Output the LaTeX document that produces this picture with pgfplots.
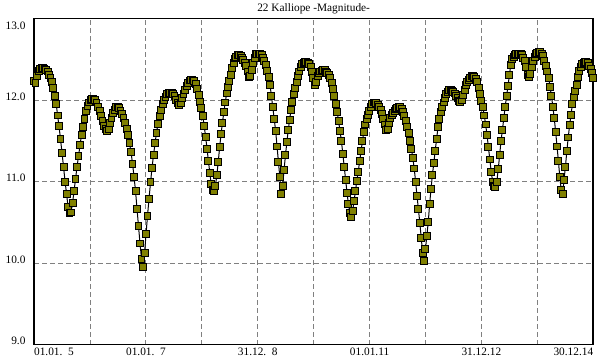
\documentclass[border=0pt]{standalone}
\usepackage{fontspec}
\setmainfont{Liberation Serif}
\usepackage{pgfplots}
\pgfplotsset{compat=1.18}
\usepackage{pgfplotstable}
\definecolor{olivemark}{HTML}{808000}
\definecolor{gridgray}{HTML}{808080}
\pgfplotstableread{
t m
2005.000 12.23
2005.025 12.21
2005.052 12.30
2005.079 12.36
2005.106 12.38
2005.132 12.39
2005.159 12.39
2005.186 12.38
2005.213 12.37
2005.240 12.35
2005.267 12.31
2005.293 12.27
2005.320 12.22
2005.343 12.15
2005.370 12.05
2005.395 11.95
2005.420 11.81
2005.445 11.68
2005.472 11.52
2005.499 11.35
2005.526 11.18
2005.553 11.00
2005.580 10.85
2005.606 10.69
2005.633 10.61
2005.660 10.62
2005.687 10.74
2005.714 10.88
2005.740 11.03
2005.767 11.18
2005.794 11.31
2005.821 11.45
2005.848 11.57
2005.875 11.67
2005.901 11.77
2005.928 11.86
2005.955 11.93
2005.982 11.97
2006.009 12.00
2006.036 12.01
2006.062 12.01
2006.089 12.00
2006.116 11.97
2006.143 11.92
2006.170 11.86
2006.197 11.80
2006.223 11.74
2006.250 11.68
2006.277 11.64
2006.304 11.62
2006.331 11.65
2006.358 11.72
2006.384 11.78
2006.411 11.84
2006.438 11.88
2006.465 11.91
2006.492 11.91
2006.519 11.90
2006.545 11.87
2006.572 11.83
2006.599 11.78
2006.626 11.72
2006.653 11.65
2006.680 11.57
2006.706 11.47
2006.733 11.36
2006.760 11.22
2006.787 11.06
2006.814 10.88
2006.841 10.66
2006.867 10.45
2006.894 10.24
2006.921 10.05
2006.948 9.95
2006.975 10.12
2007.002 10.36
2007.028 10.58
2007.055 10.79
2007.082 10.99
2007.109 11.17
2007.136 11.33
2007.163 11.47
2007.189 11.60
2007.216 11.71
2007.243 11.80
2007.270 11.88
2007.297 11.95
2007.323 12.00
2007.350 12.04
2007.377 12.07
2007.404 12.09
2007.431 12.09
2007.458 12.09
2007.484 12.07
2007.511 12.05
2007.538 12.00
2007.565 11.96
2007.592 11.94
2007.619 11.96
2007.645 12.02
2007.672 12.07
2007.699 12.12
2007.726 12.17
2007.753 12.21
2007.780 12.24
2007.806 12.25
2007.833 12.25
2007.860 12.23
2007.887 12.20
2007.914 12.14
2007.941 12.06
2007.967 11.98
2007.992 11.90
2008.017 11.80
2008.042 11.68
2008.067 11.55
2008.093 11.40
2008.118 11.25
2008.143 11.10
2008.168 10.97
2008.193 10.90
2008.218 10.88
2008.243 10.95
2008.268 11.08
2008.293 11.24
2008.318 11.42
2008.343 11.58
2008.368 11.72
2008.393 11.85
2008.418 11.97
2008.443 12.08
2008.468 12.16
2008.493 12.23
2008.518 12.31
2008.543 12.39
2008.568 12.45
2008.593 12.51
2008.618 12.53
2008.643 12.55
2008.668 12.55
2008.694 12.54
2008.719 12.52
2008.744 12.49
2008.769 12.46
2008.794 12.42
2008.819 12.35
2008.844 12.28
2008.869 12.29
2008.894 12.37
2008.919 12.46
2008.944 12.52
2008.969 12.56
2008.994 12.57
2009.019 12.57
2009.044 12.56
2009.069 12.55
2009.094 12.52
2009.119 12.48
2009.144 12.43
2009.169 12.36
2009.194 12.28
2009.219 12.19
2009.244 12.05
2009.269 11.91
2009.294 11.77
2009.320 11.62
2009.345 11.43
2009.370 11.24
2009.395 11.05
2009.420 10.85
2009.445 10.95
2009.470 11.14
2009.495 11.32
2009.520 11.48
2009.545 11.63
2009.570 11.76
2009.595 11.88
2009.620 11.98
2009.645 12.07
2009.670 12.15
2009.695 12.22
2009.720 12.29
2009.745 12.35
2009.770 12.40
2009.795 12.44
2009.820 12.46
2009.845 12.47
2009.870 12.47
2009.895 12.46
2009.920 12.44
2009.946 12.40
2009.971 12.34
2009.996 12.27
2010.021 12.19
2010.046 12.22
2010.071 12.29
2010.096 12.33
2010.121 12.35
2010.146 12.36
2010.171 12.37
2010.196 12.37
2010.221 12.35
2010.246 12.33
2010.271 12.31
2010.296 12.27
2010.321 12.21
2010.346 12.14
2010.371 12.05
2010.396 11.95
2010.421 11.85
2010.446 11.74
2010.471 11.62
2010.496 11.50
2010.521 11.34
2010.547 11.18
2010.572 11.02
2010.597 10.86
2010.622 10.72
2010.647 10.61
2010.672 10.57
2010.697 10.64
2010.722 10.76
2010.747 10.88
2010.772 11.01
2010.797 11.12
2010.822 11.25
2010.847 11.37
2010.872 11.50
2010.897 11.61
2010.922 11.70
2010.947 11.77
2010.972 11.82
2010.997 11.87
2011.022 11.91
2011.047 11.95
2011.072 11.97
2011.097 11.97
2011.122 11.96
2011.147 11.94
2011.172 11.91
2011.197 11.88
2011.222 11.83
2011.247 11.77
2011.273 11.70
2011.298 11.63
2011.323 11.64
2011.348 11.72
2011.373 11.78
2011.398 11.82
2011.423 11.84
2011.448 11.87
2011.473 11.89
2011.498 11.90
2011.523 11.91
2011.548 11.91
2011.573 11.89
2011.598 11.85
2011.623 11.80
2011.648 11.74
2011.673 11.67
2011.698 11.60
2011.723 11.50
2011.748 11.40
2011.773 11.29
2011.799 11.16
2011.824 10.99
2011.849 10.82
2011.874 10.66
2011.899 10.49
2011.924 10.31
2011.949 10.12
2011.974 10.02
2011.999 10.17
2012.024 10.33
2012.049 10.50
2012.074 10.72
2012.099 10.91
2012.124 11.08
2012.149 11.23
2012.174 11.38
2012.199 11.52
2012.224 11.67
2012.249 11.77
2012.274 11.85
2012.299 11.92
2012.324 11.97
2012.349 12.02
2012.374 12.07
2012.399 12.10
2012.425 12.12
2012.450 12.12
2012.475 12.11
2012.500 12.10
2012.525 12.08
2012.550 12.05
2012.575 12.02
2012.600 11.99
2012.625 11.98
2012.650 12.00
2012.675 12.06
2012.700 12.12
2012.725 12.18
2012.750 12.22
2012.775 12.25
2012.800 12.27
2012.825 12.29
2012.850 12.29
2012.875 12.28
2012.900 12.26
2012.925 12.22
2012.951 12.15
2012.976 12.07
2013.001 11.99
2013.026 11.91
2013.051 11.81
2013.076 11.70
2013.101 11.57
2013.126 11.42
2013.151 11.27
2013.176 11.12
2013.201 11.00
2013.226 10.94
2013.251 10.93
2013.276 11.00
2013.301 11.15
2013.326 11.32
2013.351 11.50
2013.376 11.63
2013.401 11.78
2013.426 11.92
2013.451 12.05
2013.476 12.17
2013.501 12.31
2013.526 12.43
2013.551 12.50
2013.577 12.53
2013.602 12.55
2013.627 12.56
2013.652 12.57
2013.677 12.57
2013.702 12.56
2013.727 12.55
2013.752 12.52
2013.777 12.48
2013.802 12.40
2013.827 12.31
2013.852 12.28
2013.877 12.32
2013.902 12.40
2013.927 12.48
2013.952 12.53
2013.977 12.56
2014.002 12.58
2014.027 12.59
2014.052 12.59
2014.077 12.57
2014.102 12.54
2014.127 12.48
2014.152 12.42
2014.177 12.35
2014.203 12.27
2014.228 12.16
2014.253 12.05
2014.278 11.92
2014.303 11.78
2014.328 11.61
2014.353 11.43
2014.378 11.25
2014.403 11.05
2014.428 10.90
2014.453 10.85
2014.478 11.02
2014.503 11.18
2014.528 11.37
2014.553 11.54
2014.578 11.69
2014.603 11.82
2014.628 11.95
2014.653 12.04
2014.678 12.11
2014.703 12.19
2014.728 12.28
2014.753 12.36
2014.778 12.40
2014.803 12.44
2014.828 12.46
2014.853 12.47
2014.879 12.47
2014.904 12.45
2014.929 12.42
2014.954 12.38
2014.979 12.33
2015.000 12.27
}\kalliope

\begin{document}
\begin{tikzpicture}
\begin{axis}[
  scale only axis,
  width=419.3pt, height=244.5pt,
  xmin=2005, xmax=2015, ymin=9, ymax=13,
  xtick={2005,2007,2009,2011,2013,2015},
  xticklabels={\rlap{01.01.\enspace5},01.01.\enspace7,31.12.\enspace8,01.01.11,31.12.12,\llap{30.12.14}},
  minor xtick={2006,2008,2010,2012,2014},
  ytick={9,10,11,12,13},
  yticklabels={9.0,10.0,11.0,12.0,\raisebox{-8.2pt}{13.0}},
  xmajorgrids, xminorgrids, ymajorgrids,
  grid style={gridgray, line width=0.75pt, dash pattern=on 3.75pt off 2.25pt},
  minor grid style={gridgray, line width=0.75pt, dash pattern=on 3.75pt off 2.25pt},
  major tick length=0pt, minor tick length=0pt,
  axis line style={line width=1.1pt},
  tick label style={font=\fontsize{8.5}{10}\selectfont},
  xticklabel style={anchor=base, inner sep=0pt, yshift=-8.6pt},
  yticklabel style={anchor=base east, inner sep=0pt, xshift=-6.3pt},
  clip=false,
]
\addplot[black, line width=0.75pt, mark=square*, mark size=2.6pt,
  mark options={fill=olivemark, draw=black, line width=0.75pt, solid}]
  table[x=t, y=m] {\kalliope};
\coordinate (sw) at (rel axis cs:0,0);
\coordinate (ne) at (rel axis cs:1,1);
\node[anchor=base, inner sep=0pt, font=\fontsize{8.5}{10}\selectfont]
  at ([yshift=5.25pt]rel axis cs:0.5,1) {22 Kalliope -Magnitude-};
\end{axis}
\pgfresetboundingbox
\path ([xshift=-25.6pt,yshift=-11.6pt]sw) rectangle ([xshift=5.1pt,yshift=13.9pt]ne);
\end{tikzpicture}
\end{document}
